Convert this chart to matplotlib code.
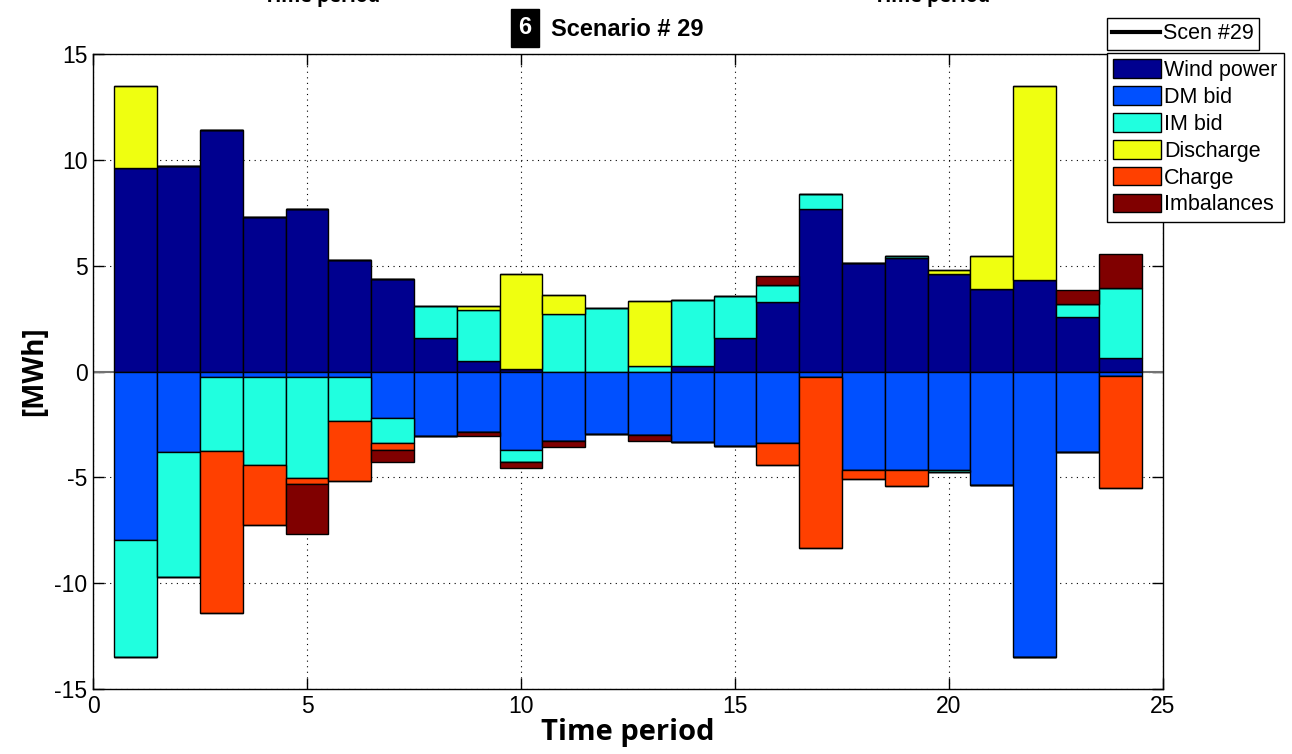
import numpy as np
import matplotlib.pyplot as plt
from matplotlib.patches import Patch
from matplotlib.lines import Line2D

plt.rcParams['font.family'] = ['Liberation Sans', 'DejaVu Sans']
plt.rcParams['axes.unicode_minus'] = False

# Periodos
t = np.arange(1, 25)

# Parte positiva [MWh]
wind = [9.6, 9.7, 11.4, 7.3, 7.7, 5.25, 4.35, 1.6, 0.5, 0.1, 0.0, 0.0,
        0.0, 0.27, 1.56, 3.3, 7.7, 5.13, 5.35, 4.6, 3.9, 4.3, 2.58, 0.63]
im_pos = [0, 0, 0, 0, 0, 0, 0, 1.5, 2.4, 0, 2.72, 2.98,
          0.27, 3.09, 2.01, 0.79, 0.67, 0, 0.1, 0, 0, 0, 0.61, 3.3]
discharge = [3.9, 0, 0, 0, 0, 0, 0, 0, 0.2, 4.5, 0.9, 0,
             3.05, 0, 0, 0, 0, 0, 0, 0.2, 1.55, 9.2, 0, 0]
imb_pos = [0, 0, 0, 0, 0, 0, 0, 0, 0, 0, 0, 0,
           0, 0, 0, 0.4, 0, 0, 0, 0, 0, 0, 0.66, 1.63]

# Parte negativa [MWh]
dm = [-7.94, -3.8, -0.24, -0.24, -0.24, -0.24, -2.21, -3.05, -2.84, -3.73, -3.3, -2.94,
      -3.01, -3.31, -3.54, -3.38, -0.25, -4.67, -4.67, -4.67, -5.38, -13.47, -3.79, -0.2]
im_neg = [-5.54, -5.89, -3.52, -4.16, -4.8, -2.11, -1.15, 0, 0, -0.55, 0, 0,
          0, 0, 0, 0, 0, 0, 0, -0.08, 0, 0, 0, 0]
charge = [0, 0, -7.64, -2.83, -0.26, -2.84, -0.33, 0, 0, 0, 0, 0,
          0, 0, 0, -1.06, -8.1, -0.41, -0.74, 0, 0, 0, 0, -5.31]
imb_neg = [0, 0, 0, 0, -2.36, 0, -0.6, 0, -0.22, -0.27, -0.28, 0,
           -0.26, 0, 0, 0, 0, 0, 0, 0, 0, 0, 0, 0]

labels = ['Wind power', 'DM bid', 'IM bid', 'Discharge', 'Charge', 'Imbalances']
colors = ['#00008F', '#0050FF', '#20FFDF', '#EFFF10', '#FF4000', '#800000']

fig = plt.figure(figsize=(12.92, 7.54), dpi=100)
ax = fig.add_axes([93/1292, 1 - 689/754, 1070/1292, 635/754])

ax.axhline(0, color='0.45', lw=1.5, zorder=1)

kw = dict(width=1.0, edgecolor='black', linewidth=1.0, zorder=3)

# Barras apiladas hacia arriba
base = np.zeros(24)
for vals, c in [(wind, colors[0]), (im_pos, colors[2]),
                (discharge, colors[3]), (imb_pos, colors[5])]:
    v = np.array(vals)
    ax.bar(t, v, bottom=base, color=c, **kw)
    base = base + v

# Barras apiladas hacia abajo
base = np.zeros(24)
for vals, c in [(dm, colors[1]), (im_neg, colors[2]),
                (charge, colors[4]), (imb_neg, colors[5])]:
    v = np.array(vals)
    ax.bar(t, v, bottom=base, color=c, **kw)
    base = base + v

ax.set_xlim(0, 25)
ax.set_ylim(-15, 15)
ax.set_xticks(np.arange(0, 26, 5))
ax.set_yticks(np.arange(-15, 16, 5))
ax.grid(True, linestyle=(0, (1, 4)), color='black', linewidth=0.8, zorder=0)
ax.set_axisbelow(True)
ax.tick_params(direction='in', top=True, right=True, length=8, width=1,
               labelsize=16.5, pad=4)
for s in ax.spines.values():
    s.set_linewidth(1.0)

ax.set_xlabel('Time period', fontsize=21, fontweight='bold',
              family=['Open Sans', 'DejaVu Sans'], labelpad=0)
ax.set_ylabel('[MWh]', fontsize=20, fontweight='bold',
              family=['Open Sans', 'DejaVu Sans'], labelpad=4)

# Titulo con el numero de subgrafico
fig.text(525/1292, 1 - 28/754, '6', color='white', fontsize=17, fontweight='bold',
         ha='center', va='center',
         bbox=dict(boxstyle='square,pad=0.3', facecolor='black', edgecolor='black'))
fig.text(551/1292, 1 - 29/754, 'Scenario # 29', fontsize=17, fontweight='bold',
         ha='left', va='center')

# Etiquetas de los graficos de arriba (cortadas por el borde)
for xc in (322, 932):
    fig.text(xc/1292, 1 - 2/754, 'Time period', fontsize=14, fontweight='bold',
             family=['Open Sans', 'DejaVu Sans'], ha='center', va='baseline')

handles = [Patch(facecolor=c, edgecolor='black', linewidth=1) for c in colors]
leg = fig.legend(handles, labels, loc='upper left',
                 bbox_to_anchor=(1107/1292, 1 - 53/754), fontsize=15.5,
                 frameon=True, fancybox=False, framealpha=1, edgecolor='black',
                 handlelength=2.2, handleheight=0.95, handletextpad=0.15,
                 labelspacing=0.24, borderpad=0.3, borderaxespad=0)
leg.get_frame().set_linewidth(1)

leg2 = fig.legend([Line2D([0], [0], color='black', lw=3)], ['Scen #29'],
                  loc='upper left', bbox_to_anchor=(1107/1292, 1 - 18/754),
                  fontsize=15.5, frameon=True, fancybox=False, framealpha=1,
                  edgecolor='black', handlelength=2.2, handletextpad=0.15,
                  borderpad=0.25, borderaxespad=0)
leg2.get_frame().set_linewidth(1)

fig.savefig('out.png', dpi=100)
